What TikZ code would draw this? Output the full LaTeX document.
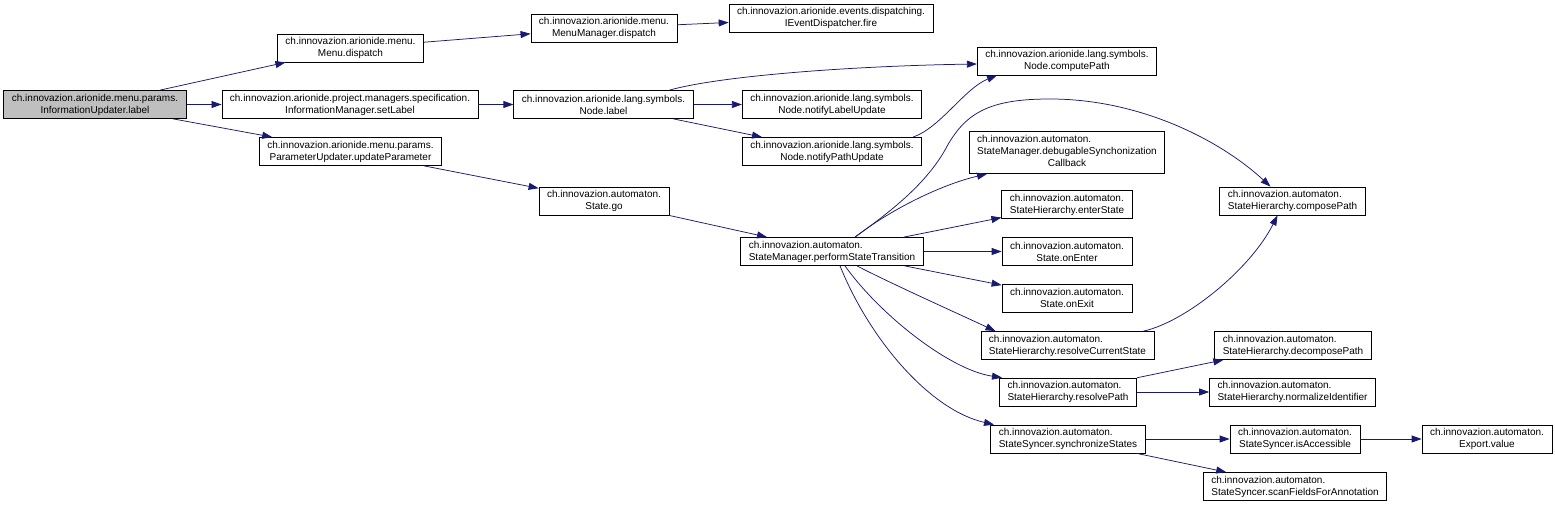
\documentclass[tikz,border=0pt]{standalone}
\usepackage{fontspec}
\setmainfont{Liberation Sans}
\usepackage{tikz}
\usetikzlibrary{arrows.meta}
\definecolor{edgeblue}{RGB}{25,25,112}
\definecolor{rootgray}{RGB}{191,191,191}

\begin{document}
\begin{tikzpicture}[
    x=1pt, y=-1pt,
    fn/.style={draw, fill=white, line width=0.8pt, font=\fontsize{10}{12}\selectfont, inner xsep=8pt, inner ysep=3pt, minimum height=28pt, align=center},
    fnl/.style={fn, align=left},
    call/.style={-{Triangle[length=10pt, width=7pt]}, draw=edgeblue, line width=0.75pt}
    ]
    \useasboundingbox (0,0) rectangle (1555,505);

    \node (root) [fn, fill=rootgray] at (95,104.5) {ch.innovazion.arionide.menu.params.\\InformationUpdater.label};

    \node (menu) [fn] at (350.5,48) {ch.innovazion.arionide.menu.\\Menu.dispatch};

    \node (setLabel) [fn] at (350,104.5) {ch.innovazion.arionide.project.managers.specification.\\InformationManager.setLabel};

    \node (updParam) [fn] at (350.5,151.5) {ch.innovazion.arionide.menu.params.\\ParameterUpdater.updateParameter};

    \node (menuMgr) [fn] at (604,28) {ch.innovazion.arionide.menu.\\MenuManager.dispatch};

    \node (fire) [fn] at (831,18) {ch.innovazion.arionide.events.dispatching.\\IEventDispatcher.fire};

    \node (nodeLabel) [fn] at (603.5,104.5) {ch.innovazion.arionide.lang.symbols.\\Node.label};

    \node (computePath) [fn] at (1067,61) {ch.innovazion.arionide.lang.symbols.\\Node.computePath};

    \node (notifyLabel) [fn] at (832,104.5) {ch.innovazion.arionide.lang.symbols.\\Node.notifyLabelUpdate};

    \node (notifyPath) [fn] at (832,151.5) {ch.innovazion.arionide.lang.symbols.\\Node.notifyPathUpdate};

    \node (stateGo) [fn] at (604,201) {ch.innovazion.automaton.\\State.go};

    \node (perform) [fnl] at (832,251.5) {ch.innovazion.automaton.\\StateManager.performStateTransition};

    \node (debug) [fn, minimum height=39pt] at (1067,152.5) {\begin{tabular}{@{}l@{}}ch.innovazion.automaton.\\StateManager.debugableSynchonization\\\multicolumn{1}{@{}c@{}}{Callback}\end{tabular}};

    \node (enterState) [fnl] at (1067,204.5) {ch.innovazion.automaton.\\StateHierarchy.enterState};

    \node (onEnter) [fn] at (1067,251.5) {ch.innovazion.automaton.\\State.onEnter};

    \node (onExit) [fn] at (1067,298) {ch.innovazion.automaton.\\State.onExit};

    \node (resolveCurrent) [fnl] at (1067.5,345.5) {ch.innovazion.automaton.\\StateHierarchy.resolveCurrentState};

    \node (composePath) [fnl] at (1292.5,201) {ch.innovazion.automaton.\\StateHierarchy.composePath};

    \node (resolvePath) [fnl] at (1068,392) {ch.innovazion.automaton.\\StateHierarchy.resolvePath};

    \node (decomposePath) [fnl] at (1293,345.5) {ch.innovazion.automaton.\\StateHierarchy.decomposePath};

    \node (normalize) [fnl] at (1292.5,392) {ch.innovazion.automaton.\\StateHierarchy.normalizeIdentifier};

    \node (syncStates) [fnl] at (1068,439) {ch.innovazion.automaton.\\StateSyncer.synchronizeStates};

    \node (isAccessible) [fn] at (1295,439) {ch.innovazion.automaton.\\StateSyncer.isAccessible};

    \node (exportValue) [fn] at (1487,439) {ch.innovazion.automaton.\\Export.value};

    \node (scanFields) [fnl] at (1295,486.5) {ch.innovazion.automaton.\\StateSyncer.scanFieldsForAnnotation};

    \draw[call] (root) -- (menu);
    \draw[call] (root) -- (setLabel);
    \draw[call] (root) -- (updParam);
    \draw[call] (menu) -- (menuMgr);
    \draw[call] (menuMgr) -- (fire);
    \draw[call] (setLabel) -- (nodeLabel);
    \draw[call] (nodeLabel) -- (notifyLabel);
    \draw[call] (nodeLabel) -- (notifyPath);
    \draw[call] ([xshift=66pt]nodeLabel.north) .. controls (720,76) and (850,66) .. ([yshift=-3pt]computePath.west);
    \draw[call] ([xshift=81pt]notifyPath.north) .. controls (940,128) and (965,88) .. ([xshift=-70pt]computePath.south);
    \draw[call] (updParam) -- (stateGo);
    \draw[call] (stateGo) -- (perform);

    \draw[call] ([xshift=23pt]perform.north) .. controls (890,212) and (925,185) .. (945,150) .. controls (965,112) and (990,99) .. (1050,99) .. controls (1140,99) and (1220,140) .. ([xshift=-22pt]composePath.north);
    \draw[call] ([xshift=23pt]perform.north) .. controls (890,210) and (940,185) .. ([xshift=-80pt]debug.south);
    \draw[call] (perform) -- (enterState);
    \draw[call] (perform) -- (onEnter);
    \draw[call] (perform) -- (onExit);
    \draw[call] ([xshift=25pt]perform.south) .. controls (890,283) and (950,310) .. ([xshift=-72pt]resolveCurrent.north);
    \draw[call] ([xshift=13pt]perform.south) .. controls (880,315) and (950,370) .. ([xshift=-66pt]resolvePath.north);
    \draw[call] ([xshift=8pt]perform.south) .. controls (870,340) and (930,410) .. ([xshift=-74pt]syncStates.north);
    \draw[call] ([xshift=76pt]resolveCurrent.north) .. controls (1185,322) and (1250,270) .. ([xshift=-15pt]composePath.south);

    \draw[call] (resolvePath) -- (decomposePath);
    \draw[call] (resolvePath) -- (normalize);
    \draw[call] (syncStates) -- (isAccessible);
    \draw[call] (syncStates) -- (scanFields);
    \draw[call] (isAccessible) -- (exportValue);

\end{tikzpicture}
\end{document}
